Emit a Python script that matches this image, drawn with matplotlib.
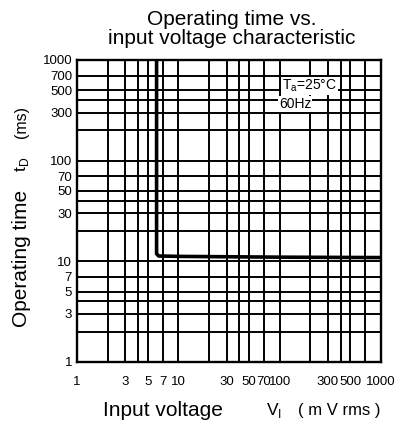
import matplotlib
matplotlib.use("Agg")
import matplotlib.pyplot as plt
from matplotlib.ticker import FixedLocator, FixedFormatter, NullLocator

# ---- data ----
voltage_mv = [6.1, 6.1, 6.4, 10, 100, 1000]
operating_ms = [1000, 11.9, 11.3, 11.2, 11.0, 10.9]

x_grid = [1, 2, 3, 4, 5, 7, 10, 20, 30, 40, 50, 70, 100, 200, 300, 400, 500, 700, 1000]
x_labels = ["1", "", "3", "", "5", "7", "10", "", "30", "", "50", "70", "100", "", "300", "", "500", "", "1000"]
y_grid = [1, 2, 3, 4, 5, 7, 10, 20, 30, 40, 50, 70, 100, 200, 300, 400, 500, 700, 1000]
y_labels = ["1", "", "3", "", "5", "7", "10", "", "30", "", "50", "70", "100", "", "300", "", "500", "700", "1000"]

title = "Operating time vs.\ninput voltage characteristic"
note1 = r"T$_{\rm a}$=25°C"
note2 = "60Hz"

plt.rcParams['font.family'] = ['Liberation Sans', 'DejaVu Sans']
plt.rcParams['mathtext.fontset'] = 'custom'
plt.rcParams['mathtext.rm'] = 'Liberation Sans'

fig = plt.figure(figsize=(4.04, 4.29), dpi=100)
ax = fig.add_axes([77/404, 1-362/429, 304/404, 302/429])
ax.set_xscale('log')
ax.set_yscale('log')
ax.set_xlim(1, 1000)
ax.set_ylim(1, 1000)

ax.xaxis.set_major_locator(FixedLocator(x_grid))
ax.xaxis.set_major_formatter(FixedFormatter(x_labels))
ax.xaxis.set_minor_locator(NullLocator())
ax.yaxis.set_major_locator(FixedLocator(y_grid))
ax.yaxis.set_major_formatter(FixedFormatter(y_labels))
ax.yaxis.set_minor_locator(NullLocator())
ax.tick_params(length=0, labelsize=9.5)
ax.tick_params(axis='x', pad=10)
ax.tick_params(axis='y', pad=3.5)

ax.grid(True, color='black', linewidth=1.4)
for s in ax.spines.values():
    s.set_linewidth(1.7)

ax.plot(voltage_mv, operating_ms, color='black', linewidth=2.6, zorder=5,
        solid_joinstyle='round')

fig.text(282/404, 1-86/429, note1, fontsize=10, va='center', ha='left',
         bbox=dict(facecolor='white', edgecolor='none', pad=0.5), zorder=10)
fig.text(279/404, 1-104/429, note2, fontsize=10, va='center', ha='left',
         bbox=dict(facecolor='white', edgecolor='none', pad=0.5), zorder=10)

fig.text(232/404, 1-29/429, title, fontsize=15, ha='center', va='center',
         linespacing=1.05)

# x-axis label pieces
fig.text(103/404, 1-410/429, "Input voltage", fontsize=15, ha='left', va='center')
fig.text(266/404, 1-410/429, r"V$_{\rm I}$", fontsize=12.5, ha='left', va='center')
fig.text(298/404, 1-410/429, "( m V rms )", fontsize=12, ha='left', va='center')

# y-axis label pieces
fig.text(22/404, 1-258/429, "Operating time", fontsize=15, ha='center', va='center', rotation=90)
fig.text(22/404, 1-164/429, r"t$_{\rm D}$", fontsize=12.5, ha='center', va='center', rotation=90)
fig.text(22/404, 1-122/429, "(ms)", fontsize=11.5, ha='center', va='center', rotation=90)

fig.savefig("out.png", dpi=100)
